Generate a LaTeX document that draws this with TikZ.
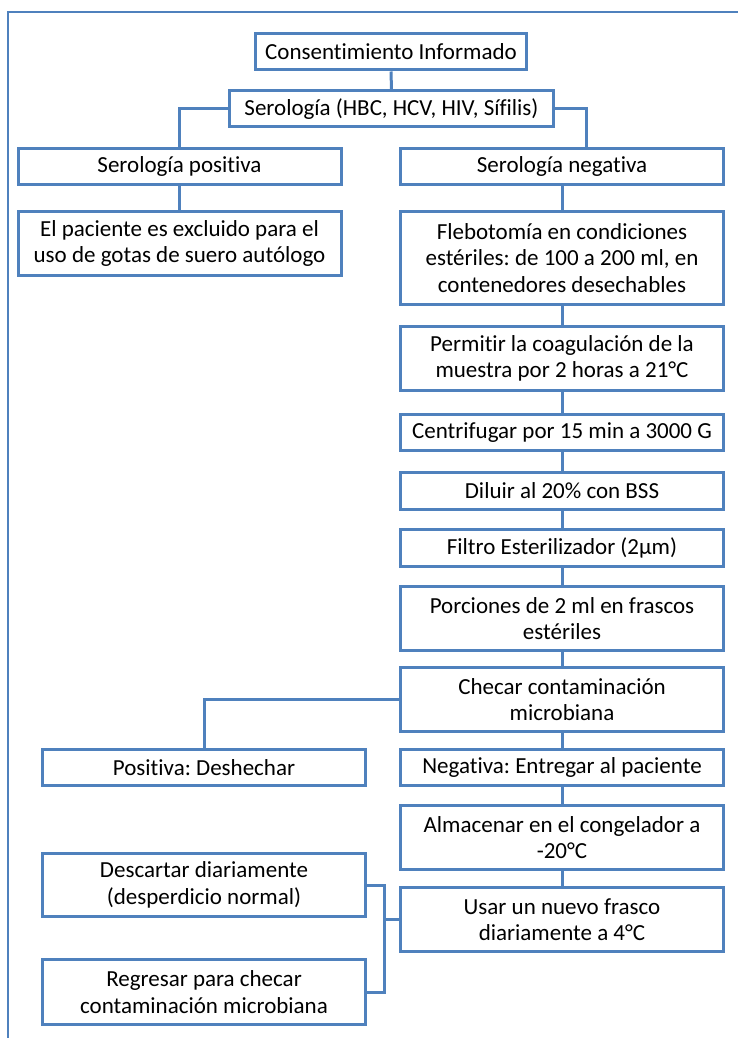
\documentclass[tikz,border=0pt]{standalone}
\usepackage{fontspec}
\setmainfont{Carlito}[Ligatures={NoCommon}]
\frenchspacing
\definecolor{obl}{RGB}{79,129,189}
\tikzset{
  box/.style={draw=obl, line width=3pt, fill=white, align=center, inner sep=0pt,
    minimum width=323pt, minimum height=#1, font=\fontsize{23}{26.5}\selectfont},
  box/.default=36pt,
  conn/.style={draw=obl, line width=3pt},
  frame/.style={draw=obl, line width=2pt}
}
\begin{document}
\begin{tikzpicture}[x=1pt,y=-1pt]
\useasboundingbox (0,0) rectangle (738,1038);
\draw[frame] (8,1038) -- (8,12) -- (738,12);
% nodes
\node[box, minimum width=271pt] (cons) at (391,52) {Consentimiento Informado};
\node[box, minimum width=324pt] (sero) at (391.5,109) {Serología (HBC, HCV, HIV, Sífilis)};
\node[box] (pos) at (179.5,166) {Serología positiva};
\node[box] (neg) at (562,166) {Serología negativa};
\node[box=64pt] (excl) at (179.5,243.5) {El paciente es excluido para el\\uso de gotas de suero autólogo};
\node[box=93pt] (fleb) at (562,258) {Flebotomía en condiciones\\estériles: de 100 a 200 ml, en\\contenedores desechables};
\node[box=64pt] (perm) at (562,358.5) {Permitir la coagulación de la\\muestra por 2 horas a 21°C};
\node[box] (cent) at (562,432.5) {Centrifugar por 15 min a 3000 G};
\node[box=37pt] (dil) at (562,491) {Diluir al 20\% con BSS};
\node[box=37pt] (filt) at (562,548) {Filtro Esterilizador (2µm)};
\node[box=64pt] (porc) at (562,618.5) {Porciones de 2 ml en frascos\\estériles};
\node[box=64pt] (chec) at (562,699.5) {Checar contaminación\\microbiana};
\node[box] (posd) at (204,767.5) {Positiva: Deshechar};
\node[box] (negd) at (562,767.5) {Negativa: Entregar al paciente};
\node[box=64pt] (alm) at (562,837.5) {Almacenar en el congelador a\\-20°C};
\node[box=64pt] (usar) at (562,919.5) {Usar un nuevo frasco\\diariamente a 4°C};
\node[box=63pt] (desc) at (204,885) {Descartar diariamente\\(desperdicio normal)};
\node[box=65pt] (regr) at (204,992) {Regresar para checar\\contaminación microbiana};
% connectors
\draw[conn] (cons.south) -- (sero.north);
\draw[conn] (sero.west) -| (pos.north);
\draw[conn] (sero.east) -| ([xshift=24pt]neg.north);
\draw[conn] (pos.south) -- (excl.north);
\draw[conn] (neg.south) -- (fleb.north);
\draw[conn] (fleb.south) -- (perm.north);
\draw[conn] (perm.south) -- (cent.north);
\draw[conn] (cent.south) -- (dil.north);
\draw[conn] (dil.south) -- (filt.north);
\draw[conn] (filt.south) -- (porc.north);
\draw[conn] (porc.south) -- (chec.north);
\draw[conn] (chec.south) -- (negd.north);
\draw[conn] (chec.west) -| (posd.north);
\draw[conn] (negd.south) -- (alm.north);
\draw[conn] (alm.south) -- (usar.north);
\draw[conn] (desc.east) -| ([xshift=-15pt]usar.west) |- (regr.east);
\draw[conn] (usar.west) -- ([xshift=-15pt]usar.west);
\end{tikzpicture}
\end{document}
